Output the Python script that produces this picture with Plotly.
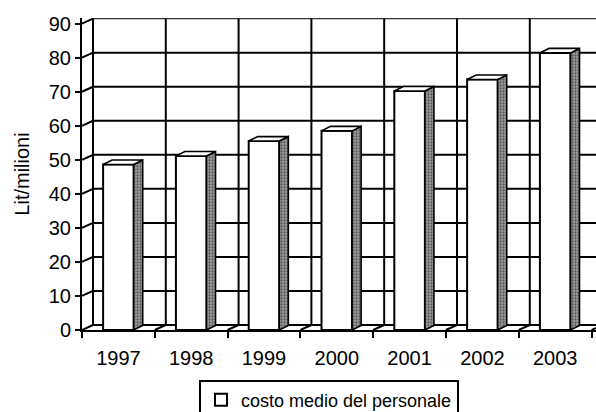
import plotly.graph_objects as go

# ---- data ----
years = ["1997", "1998", "1999", "2000", "2001", "2002", "2003"]
costo = [48.6, 51.1, 55.5, 58.5, 70.2, 73.6, 81.4]
y_ticks = [0, 10, 20, 30, 40, 50, 60, 70, 80, 90]
series_name = "costo medio del personale"
y_title = "Lit/milioni"

# ---- geometry / style (in axis units) ----
DX, DY = 0.151, 1.47      # back-wall offset (depth)
BW = 0.42                 # bar front width
OX, OY = 0.124, 1.32      # bar depth offset
YMAX = 90
XR = 514 / 72.8
YR = 312 / 3.404
FONT = "Liberation Sans, Arial, sans-serif"

n = len(years)
centers = [i + 0.5 for i in range(n)]

fig = go.Figure()

def seg_trace(xs, ys, width=2, color="black", yaxis="y"):
    return go.Scatter(x=xs, y=ys, mode="lines", line=dict(color=color, width=width),
                      showlegend=False, hoverinfo="skip", yaxis=yaxis)

# back wall horizontal grid lines
hx, hy = [], []
for v in y_ticks[:-1]:
    hx += [DX, n + DX, None]
    hy += [v + DY, v + DY, None]
fig.add_trace(seg_trace(hx, hy))
# back wall top edge (thin)
fig.add_trace(seg_trace([DX, n + DX], [YMAX + DY, YMAX + DY], width=1.2, color="#333"))

# back wall vertical grid lines
vx, vy = [], []
for i in range(n + 1):
    vx += [i + DX, i + DX, None]
    vy += [DY, YMAX + DY, None]
fig.add_trace(seg_trace(vx, vy))

# side wall slants (from front axis ticks to back wall)
sx, sy = [], []
for v in y_ticks:
    sx += [0, DX, None]
    sy += [v, v + DY, None]
# floor slants at category boundaries
for i in range(1, n + 1):
    sx += [i, i + DX, None]
    sy += [0, DY, None]
fig.add_trace(seg_trace(sx, sy))

# ---- bars (front faces) ----
fig.add_trace(go.Bar(
    x=centers, y=costo, width=BW, base=0, yaxis="y2",
    name=series_name,
    marker=dict(color="white", line=dict(color="black", width=2)),
    showlegend=True,
))

# side and top faces
px, py = [], []
tx, ty = [], []
for c, v in zip(centers, costo):
    xl, xr = c - BW / 2, c + BW / 2
    px += [xr, xr + OX, xr + OX, xr, xr, None]
    py += [0, OY, v + OY, v, 0, None]
    tx += [xl, xl + OX, xr + OX, xr, xl, None]
    ty += [v, v + OY, v + OY, v, v, None]
fig.add_trace(go.Scatter(
    x=px, y=py, mode="lines", fill="toself", yaxis="y2",
    fillcolor="#8a8a8a",
    fillpattern=dict(shape=".", fgcolor="#111", bgcolor="#a0a0a0", size=3, solidity=0.45),
    line=dict(color="black", width=1.6), showlegend=False, hoverinfo="skip"))
fig.add_trace(go.Scatter(
    x=tx, y=ty, mode="lines", fill="toself", yaxis="y2",
    fillcolor="white", line=dict(color="black", width=1.6),
    showlegend=False, hoverinfo="skip"))

fig.update_layout(
    width=596, height=412,
    margin=dict(l=82, r=0, t=18, b=82, autoexpand=False),
    paper_bgcolor="white", plot_bgcolor="rgba(0,0,0,0)",
    font=dict(family=FONT, color="black", size=20),
    xaxis=dict(
        range=[0, XR], showgrid=False, zeroline=False, automargin=False,
        tickmode="array", tickvals=centers, ticktext=years,
        ticks="outside", ticklen=9, tickcolor="rgba(0,0,0,0)",
        tickfont=dict(size=20, family=FONT),
        showline=True, linecolor="black", linewidth=2,
        minor=dict(tickmode="array", tickvals=list(range(n + 1)), ticks="outside",
                   ticklen=6, tickwidth=2, tickcolor="black", showgrid=False),
    ),
    yaxis=dict(
        range=[0, YR], showgrid=False, zeroline=False, automargin=False,
        tickmode="array", tickvals=y_ticks, ticktext=[str(v) for v in y_ticks],
        ticks="outside", ticklen=5, tickwidth=2, tickcolor="black",
        tickfont=dict(size=20, family=FONT),
        showline=True, linecolor="black", linewidth=2,
        title=dict(text=y_title, font=dict(size=20, family=FONT), standoff=14),
    ),
    yaxis2=dict(range=[0, YR], overlaying="y", visible=False, automargin=False),
    legend=dict(
        x=0.2276, y=-0.1587, xanchor="left", yanchor="top",
        bgcolor="white", bordercolor="black", borderwidth=2,
        font=dict(size=18, family=FONT),
    ),
    barmode="overlay",
    showlegend=True,
)

fig.write_html(
    "out.html",
    config={"displayModeBar": False},
    post_script="document.body.style.margin='0';document.body.style.overflow='hidden';",
)
